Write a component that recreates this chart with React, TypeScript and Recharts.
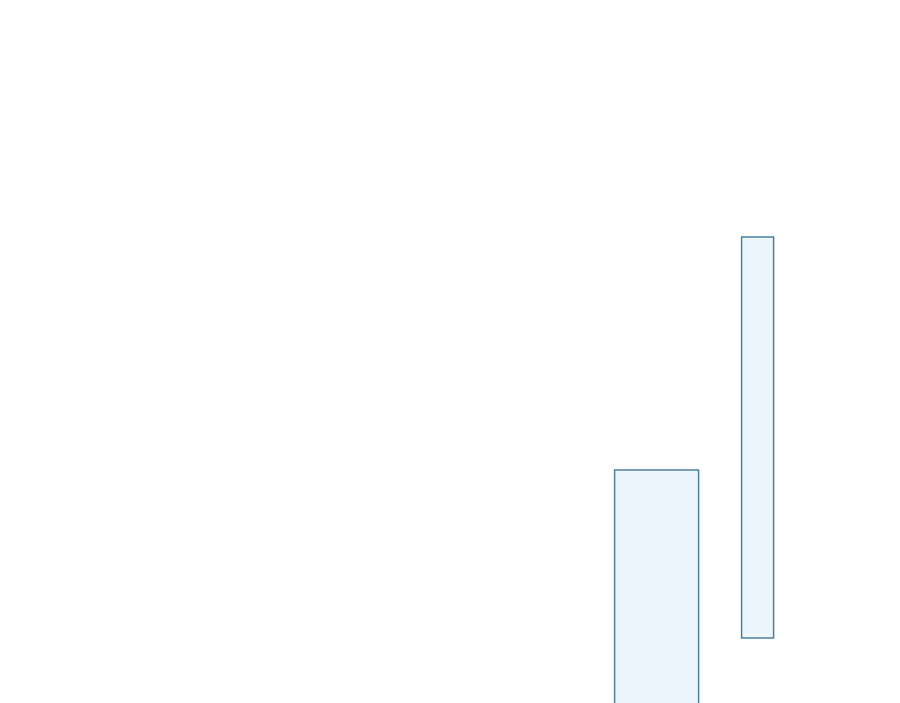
import React from "react";
import { BarChart, Bar, XAxis, YAxis } from "recharts";

const categories = ["A", "B"];
const lowValues = [-20, 65];
const highValues = [233, 466];

const data = categories.map((c, i) => ({ name: c, range: [lowValues[i], highValues[i]] }));

const BAR_WIDTHS = [84, 32];

const RangeShape = (props: any) => {
  const { x, y, width, height, index } = props;
  const w = BAR_WIDTHS[index] ?? width;
  const cx = x + width / 2;
  return (
    <rect
      x={cx - w / 2}
      y={y}
      width={w}
      height={height}
      fill="#edf6fc"
      stroke="#4d7fa0"
      strokeWidth={1.5}
    />
  );
};

export default function App() {
  return (
    <div style={{ position: "absolute", left: 0, top: 0, width: 900, height: 703, overflow: "hidden", background: "#fff" }}>
      <BarChart width={900} height={703} data={data} margin={{ top: 0, right: 92, bottom: 0, left: 606 }}>
        <XAxis dataKey="name" hide />
        <YAxis hide domain={[0, 703]} allowDataOverflow />
        <Bar dataKey="range" isAnimationActive={false} shape={<RangeShape />} />
      </BarChart>
    </div>
  );
}
